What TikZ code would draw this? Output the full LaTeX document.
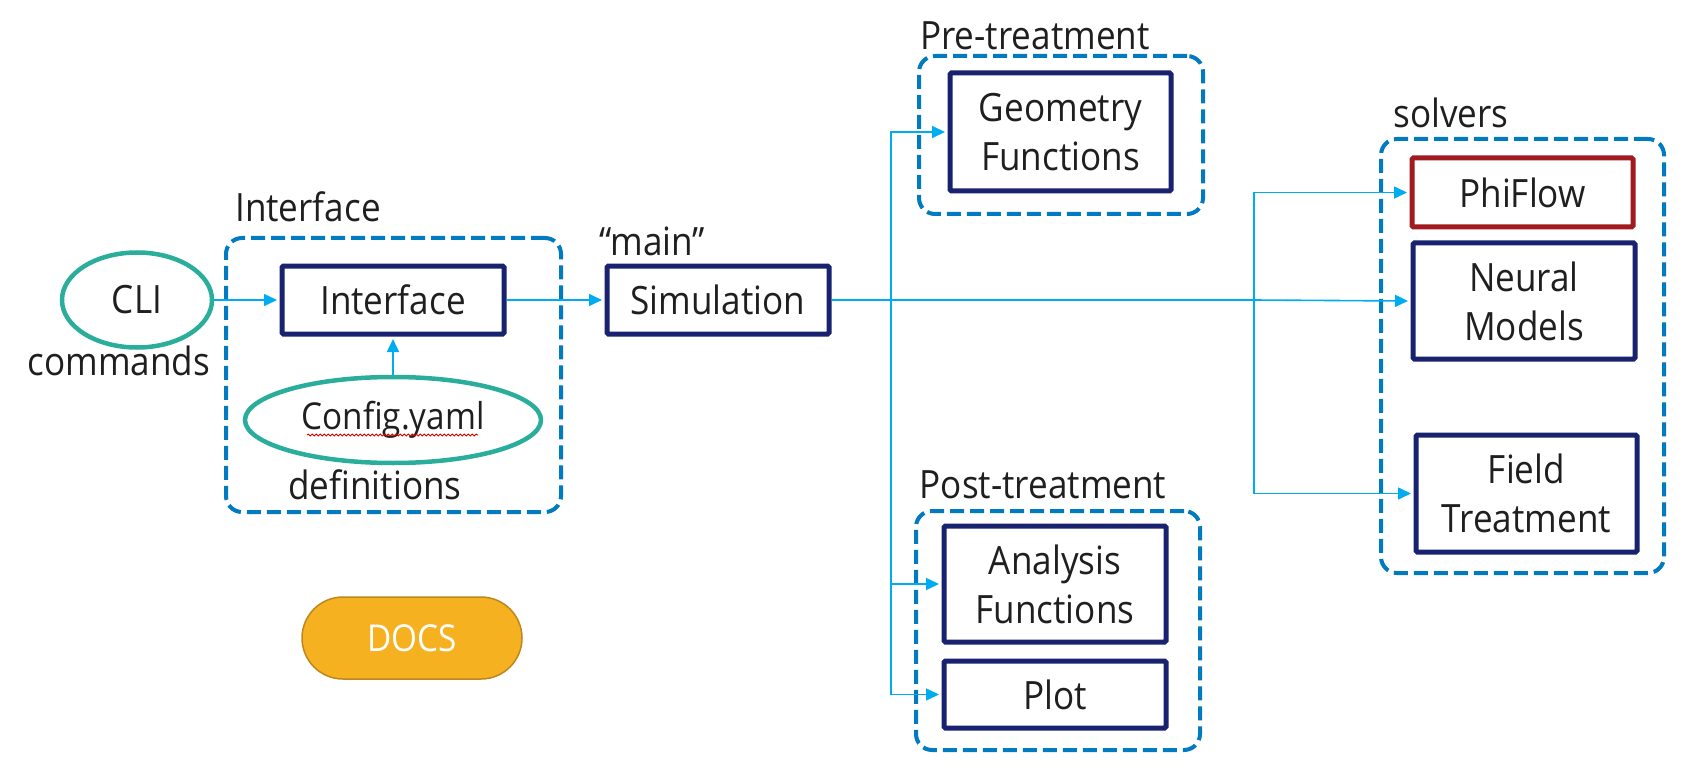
\documentclass[tikz,border=0pt]{standalone}
\usepackage{fontspec}
\setmainfont{Open Sans}[FakeStretch=0.9]
\usetikzlibrary{arrows.meta,shapes.geometric,decorations.pathmorphing}
\definecolor{cnavy}{RGB}{24,34,110}
\definecolor{cgrp}{RGB}{0,122,192}
\definecolor{clink}{RGB}{0,172,240}
\definecolor{cteal}{RGB}{42,174,155}
\definecolor{cred}{RGB}{160,26,32}
\definecolor{cdocs}{RGB}{246,177,33}
\definecolor{cdocsb}{RGB}{190,135,30}
\newcommand\fsmain{\fontsize{39}{49}\selectfont}
\newcommand\fssmall{\fontsize{37}{46}\selectfont}
\tikzset{
  box/.style={draw=cnavy, line width=5pt, rounded corners=1.5pt, inner sep=0pt,
    align=center, font=\fsmain, text=black!88},
  grp/.style={draw=cgrp, line width=4pt, dash pattern=on 14pt off 6pt,
    rounded corners=16pt, inner sep=0pt},
  oval/.style={draw=cteal, line width=4.5pt, ellipse, inner sep=0pt, font=\fsmain, text=black!88},
  lbl/.style={anchor=base, inner sep=0pt, font=\fsmain, text=black!88},
  link/.style={draw=clink, line width=1.6pt, -{Triangle[length=13pt,width=12pt]}},
  linkline/.style={draw=clink, line width=1.6pt},
}
\begin{document}
\begin{tikzpicture}[x=1pt,y=-1pt]
\useasboundingbox (0,0) rectangle (1700,778);
% groups
\node[grp, minimum width=335, minimum height=274] (gIface) at (393.5,375) {};
\node[grp, minimum width=284, minimum height=158] (gPre) at (1061,135) {};
\node[grp, minimum width=284, minimum height=239] (gPost) at (1058,630.5) {};
\node[grp, minimum width=283, minimum height=434] (gSolv) at (1522.5,356) {};
% group titles
\node[lbl] (tIface) at (308,222) {Interface};
\node[lbl] (tMain) at (652,255) {“main”};
\node[lbl] (tPre) at (1035,50) {Pre-treatment};
\node[lbl] (tPost) at (1043,498) {Post-treatment};
\node[lbl] (tSolv) at (1451,128) {solvers};
% left part
\node[oval, minimum width=150, minimum height=95] (cli) at (137,300) {CLI};
\node[lbl] (tCmd) at (119,375) {commands};
\node[box, minimum width=222, minimum height=68] (iface) at (393,300) {Interface};
\node[oval, minimum width=296, minimum height=86, font=\fssmall] (cfg) at (393,420) {Config.yaml};
\draw[red!85!black, line width=0.9pt, decorate,
  decoration={snake, amplitude=0.9pt, segment length=4pt}] (307,435) -- (478,435);
\node[lbl] (tDef) at (375,499) {definitions};
\node[draw=cdocsb, line width=1.5pt, fill=cdocs, rounded corners=41pt,
  minimum width=220, minimum height=82, inner sep=0pt, text=white,
  font=\fssmall] (docs) at (412,638) {DOCS};
% main
\node[box, minimum width=222, minimum height=68] (sim) at (718,300) {Simulation};
% pre / post
\node[box, minimum width=221, minimum height=118] (geo) at (1060.5,132) {Geometry\\Functions};
\node[box, minimum width=222, minimum height=116] (ana) at (1055,584) {Analysis\\Functions};
\node[box, minimum width=222, minimum height=67] (plot) at (1055,694.5) {Plot};
% solvers
\node[box, draw=cred, minimum width=221, minimum height=69] (phi) at (1522.5,192.5) {PhiFlow};
\node[box, minimum width=222, minimum height=116] (neu) at (1524,301) {Neural\\Models};
\node[box, minimum width=221, minimum height=117] (fld) at (1526.5,493.5) {Field\\Treatment};
% connectors
\coordinate (jA) at (891,300);
\coordinate (jB) at (1254,300);
\draw[link, shorten >=2.5pt] (cli.east) -- (iface.west);
\draw[link, shorten >=2.5pt] (cfg.north) -- (iface.south);
\draw[link, shorten >=2.5pt] (iface.east) -- (sim.west);
\draw[linkline] (sim.east) -- (jB);
\draw[link, shorten >=2.5pt] (jA) |- (geo.west);
\draw[link, shorten >=2.5pt] (jA) |- (ana.west);
\draw[link, shorten >=2.5pt] (jA) |- (plot.west);
\draw[link, shorten >=2.5pt] (jB) |- (phi.west);
\draw[link, shorten >=2.5pt] (jB) -- (neu.west);
\draw[link, shorten >=2.5pt] (jB) |- (fld.west);
\end{tikzpicture}
\end{document}
